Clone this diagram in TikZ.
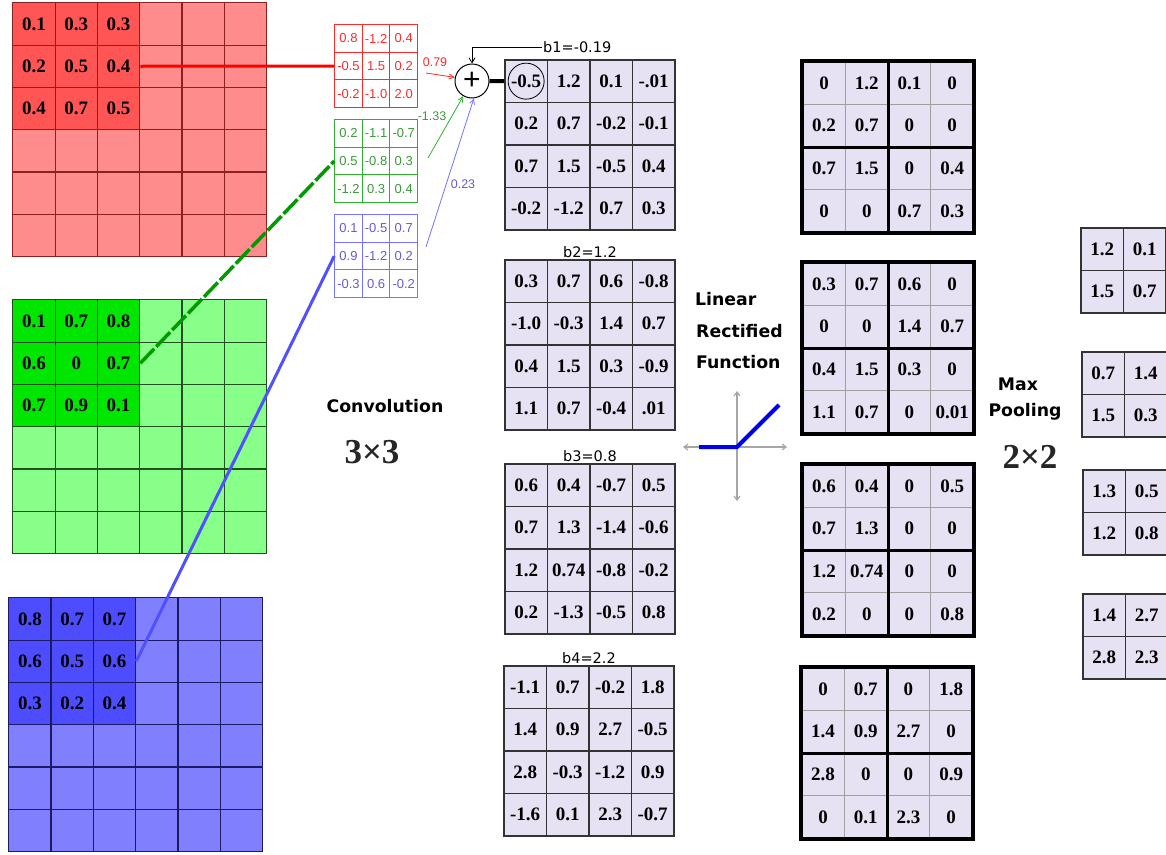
\documentclass[tikz,border=0pt]{standalone}
\usepackage{fontspec}
\setmainfont{Liberation Serif}
\newfontfamily\lsans{Liberation Sans}
\newfontfamily\dvsans{DejaVu Sans}
\usetikzlibrary{matrix,arrows.meta}

\definecolor{redD}{HTML}{FF5555}
\definecolor{redL}{HTML}{FF8C8C}
\definecolor{redB}{HTML}{8B2020}
\definecolor{grnD}{HTML}{00E600}
\definecolor{grnL}{HTML}{88FF88}
\definecolor{grnB}{HTML}{205020}
\definecolor{bluD}{HTML}{4D4DFF}
\definecolor{bluL}{HTML}{8080FF}
\definecolor{bluB}{HTML}{1A1A66}
\definecolor{lav}{HTML}{E6E1F3}
\definecolor{kred}{HTML}{FF2A2A}
\definecolor{kgrn}{HTML}{2DB02D}
\definecolor{kgrnT}{HTML}{3A9A3A}
\definecolor{kblu}{HTML}{7373FF}
\definecolor{kbluT}{HTML}{6A5ACD}
\definecolor{lnred}{HTML}{FF0000}
\definecolor{lngrn}{HTML}{009A00}
\definecolor{lnblu}{HTML}{5050FF}
\definecolor{relublue}{HTML}{0000EE}

\tikzset{
  ingrid/.style n args={2}{matrix of nodes, nodes in empty cells, anchor=north west,
    inner sep=0pt, column sep=-1.2pt, row sep=-1.2pt,
    nodes={draw=#1, fill=#2, line width=1.2pt, minimum size=42.3pt, inner sep=0pt,
      anchor=center, font=\bfseries\fontsize{19}{19}\selectfont}},
  hiR/.style={fill=redD}, hiG/.style={fill=grnD}, hiB/.style={fill=bluD},
  kern/.style n args={2}{matrix of nodes, anchor=north west,
    inner sep=0pt, column sep=-1pt, row sep=-1pt,
    nodes={draw=#1, fill=white, text=#2, line width=1pt, minimum size=27.6pt, inner sep=0pt,
      anchor=center, font=\lsans\fontsize{13}{13}\selectfont}},
  convmat/.style={matrix of nodes, anchor=north west,
    inner sep=0pt, column sep=-1.4pt, row sep=-1.4pt,
    nodes={draw=black!80, fill=lav, line width=1.4pt, minimum size=42.5pt, inner sep=0pt,
      anchor=center, font=\bfseries\fontsize{19}{19}\selectfont}},
  relumat/.style={matrix of nodes, anchor=north west,
    inner sep=0pt, column sep=-1pt, row sep=-1pt,
    nodes={draw=gray!75, fill=lav, line width=1pt, minimum size=42.7pt, inner sep=0pt,
      anchor=center, font=\bfseries\fontsize{19}{19}\selectfont}},
  blockline/.style={line width=3.5pt, black},
  blab/.style={font=\dvsans\fontsize{14.5}{14.5}\selectfont, inner sep=1pt},
  wlab/.style={font=\lsans\fontsize{12.5}{12.5}\selectfont, inner sep=0pt},
  ttl/.style={font=\dvsans\bfseries\fontsize{17.3}{17.3}\selectfont, inner sep=0pt},
  bigttl/.style={font=\bfseries\fontsize{35}{35}\selectfont, text=black!85, inner sep=0pt},
  weightarrow/.style={line width=0.8pt, -{Straight Barb[length=5pt,width=5pt]}},
  axis/.style={gray!70, line width=1.2pt,
    {Straight Barb[length=4pt,width=6pt]}-{Straight Barb[length=4pt,width=6pt]}}
}

% thick frame and 2x2 pooling blocks over a 4x4 matrix
\newcommand{\blockframe}[1]{%
  \draw[blockline] (#1-1-1.north west) rectangle (#1-4-4.south east);
  \draw[blockline] (#1-1-2.north east) -- (#1-4-2.south east);
  \draw[blockline] (#1-2-1.south west) -- (#1-2-4.south east);
}

\begin{document}
\begin{tikzpicture}[x=1pt,y=-1pt]
\useasboundingbox (0,0) rectangle (1166,854);
\fill[white] (0,0) rectangle (1166,854);

% ---------- input channels ----------
\matrix (ri) [ingrid={redB}{redL}] at (12,2) {
  |[hiR]|0.1 & |[hiR]|0.3 & |[hiR]|0.3 & & & \\
  |[hiR]|0.2 & |[hiR]|0.5 & |[hiR]|0.4 & & & \\
  |[hiR]|0.4 & |[hiR]|0.7 & |[hiR]|0.5 & & & \\
  & & & & & \\
  & & & & & \\
  & & & & & \\
};
\matrix (gi) [ingrid={grnB}{grnL}] at (12,299) {
  |[hiG]|0.1 & |[hiG]|0.7 & |[hiG]|0.8 & & & \\
  |[hiG]|0.6 & |[hiG]|0 & |[hiG]|0.7 & & & \\
  |[hiG]|0.7 & |[hiG]|0.9 & |[hiG]|0.1 & & & \\
  & & & & & \\
  & & & & & \\
  & & & & & \\
};
\matrix (bi) [ingrid={bluB}{bluL}] at (8,597) {
  |[hiB]|0.8 & |[hiB]|0.7 & |[hiB]|0.7 & & & \\
  |[hiB]|0.6 & |[hiB]|0.5 & |[hiB]|0.6 & & & \\
  |[hiB]|0.3 & |[hiB]|0.2 & |[hiB]|0.4 & & & \\
  & & & & & \\
  & & & & & \\
  & & & & & \\
};

% ---------- 3x3 kernels ----------
\matrix (rk) [kern={kred}{kred}] at (334,24) {
  0.8 & -1.2 & 0.4 \\
  -0.5 & 1.5 & 0.2 \\
  -0.2 & -1.0 & 2.0 \\
};
\matrix (gk) [kern={kgrn}{kgrnT}] at (334,119) {
  0.2 & -1.1 & -0.7 \\
  0.5 & -0.8 & 0.3 \\
  -1.2 & 0.3 & 0.4 \\
};
\matrix (bk) [kern={kblu}{kbluT}] at (334,214) {
  0.1 & -0.5 & 0.7 \\
  0.9 & -1.2 & 0.2 \\
  -0.3 & 0.6 & -0.2 \\
};

% receptive field to kernel
\draw[lnred, line width=3pt] (ri-2-3.east) -- (rk-2-1.west);
\draw[lngrn, line width=3.5pt, dash pattern=on 20pt off 3pt] (gi-2-3.east) -- (gk-2-1.west);
\draw[lnblu, line width=3pt] (bi-2-3.east) -- (bk-2-1.west);

% ---------- convolution outputs ----------
\matrix (c1) [convmat] at (504,59) {
  -0.5 & 1.2 & 0.1 & -.01 \\
  0.2 & 0.7 & -0.2 & -0.1 \\
  0.7 & 1.5 & -0.5 & 0.4 \\
  -0.2 & -1.2 & 0.7 & 0.3 \\
};
\matrix (c2) [convmat] at (504,259) {
  0.3 & 0.7 & 0.6 & -0.8 \\
  -1.0 & -0.3 & 1.4 & 0.7 \\
  0.4 & 1.5 & 0.3 & -0.9 \\
  1.1 & 0.7 & -0.4 & .01 \\
};
\matrix (c3) [convmat] at (504,463) {
  0.6 & 0.4 & -0.7 & 0.5 \\
  0.7 & 1.3 & -1.4 & -0.6 \\
  1.2 & 0.74 & -0.8 & -0.2 \\
  0.2 & -1.3 & -0.5 & 0.8 \\
};
\matrix (c4) [convmat] at (503,665) {
  -1.1 & 0.7 & -0.2 & 1.8 \\
  1.4 & 0.9 & 2.7 & -0.5 \\
  2.8 & -0.3 & -1.2 & 0.9 \\
  -1.6 & 0.1 & 2.3 & -0.7 \\
};
\node[blab, above] (b2) at (c2.north) {b2=1.2};
\node[blab, above] (b3) at (c3.north) {b3=0.8};
\node[blab, above] (b4) at (c4.north) {b4=2.2};

% ---------- weighted sum ----------
\node[circle, draw, line width=1pt, minimum size=34pt, inner sep=0pt,
      font=\lsans\fontsize{30}{30}\selectfont] (plus) at (472,81) {};
\node[font=\lsans\fontsize{30}{30}\selectfont, inner sep=0pt] (plussign) at (plus.center) {+};
\draw[line width=4pt] (plus.east) -- (c1-1-1.west);
\node[circle, draw, line width=0.8pt, minimum size=36pt] (hl) at (c1-1-1.center) {};
\node[blab, anchor=west] (b1) at (542,47) {b1=-0.19};
\draw[line width=0.8pt, -{Straight Barb[length=5pt,width=6pt]}] (b1.west) -| (plus.north);

\coordinate (ra) at (426,73);
\coordinate (ga) at (428,158);
\coordinate (ba) at (426,247);
\draw[weightarrow, kred] (ra) -- (plus.168);
\draw[weightarrow, kgrn] (ga) -- (plus.240);
\draw[weightarrow, kblu] (ba) -- (plus.276);
\node[wlab, text=kred] (w1) at (435,62) {0.79};
\node[wlab, text=kgrnT] (w2) at (432,116) {-1.33};
\node[wlab, text=kbluT] (w3) at (463,184) {0.23};

% ---------- labels ----------
\node[ttl] (convt) at (385,406) {Convolution};
\node[bigttl] (k33) at (372,452) {3×3};

\node[ttl, anchor=west] (lin) at (695,299) {Linear};
\node[ttl, anchor=west] (rec) at (696,331) {Rectified};
\node[ttl, anchor=west] (fun) at (696,362) {Function};

% ReLU sketch
\coordinate (axl) at (683,447);
\coordinate (axr) at (787,447);
\coordinate (axt) at (737,391);
\coordinate (axb) at (737,501);
\coordinate (axo) at (737,447);
\coordinate (rl0) at (699,447);
\coordinate (rl1) at (779,405);
\draw[axis] (axl) -- (axr);
\draw[axis] (axt) -- (axb);
\draw[relublue, line width=4pt] (rl0) -- (axo) -- (rl1);

% ---------- rectified maps ----------
\matrix (r1) [relumat] at (802,61) {
  0 & 1.2 & 0.1 & 0 \\
  0.2 & 0.7 & 0 & 0 \\
  0.7 & 1.5 & 0 & 0.4 \\
  0 & 0 & 0.7 & 0.3 \\
};
\matrix (r2) [relumat] at (802,262) {
  0.3 & 0.7 & 0.6 & 0 \\
  0 & 0 & 1.4 & 0.7 \\
  0.4 & 1.5 & 0.3 & 0 \\
  1.1 & 0.7 & 0 & 0.01 \\
};
\matrix (r3) [relumat] at (802,464) {
  0.6 & 0.4 & 0 & 0.5 \\
  0.7 & 1.3 & 0 & 0 \\
  1.2 & 0.74 & 0 & 0 \\
  0.2 & 0 & 0 & 0.8 \\
};
\matrix (r4) [relumat] at (801,667) {
  0 & 0.7 & 0 & 1.8 \\
  1.4 & 0.9 & 2.7 & 0 \\
  2.8 & 0 & 0 & 0.9 \\
  0 & 0.1 & 2.3 & 0 \\
};
\blockframe{r1}
\blockframe{r2}
\blockframe{r3}
\blockframe{r4}

% ---------- pooling ----------
\node[ttl] (maxt) at (1018,384) {Max};
\node[ttl] (poolt) at (1025,412) {Pooling};
\node[bigttl] (k22) at (1030,457) {2×2};

\matrix (p1) [convmat] at (1080,227) {
  1.2 & 0.1 \\
  1.5 & 0.7 \\
};
\matrix (p2) [convmat] at (1081,351) {
  0.7 & 1.4 \\
  1.5 & 0.3 \\
};
\matrix (p3) [convmat] at (1082,469) {
  1.3 & 0.5 \\
  1.2 & 0.8 \\
};
\matrix (p4) [convmat] at (1082,593) {
  1.4 & 2.7 \\
  2.8 & 2.3 \\
};
\end{tikzpicture}
\end{document}
